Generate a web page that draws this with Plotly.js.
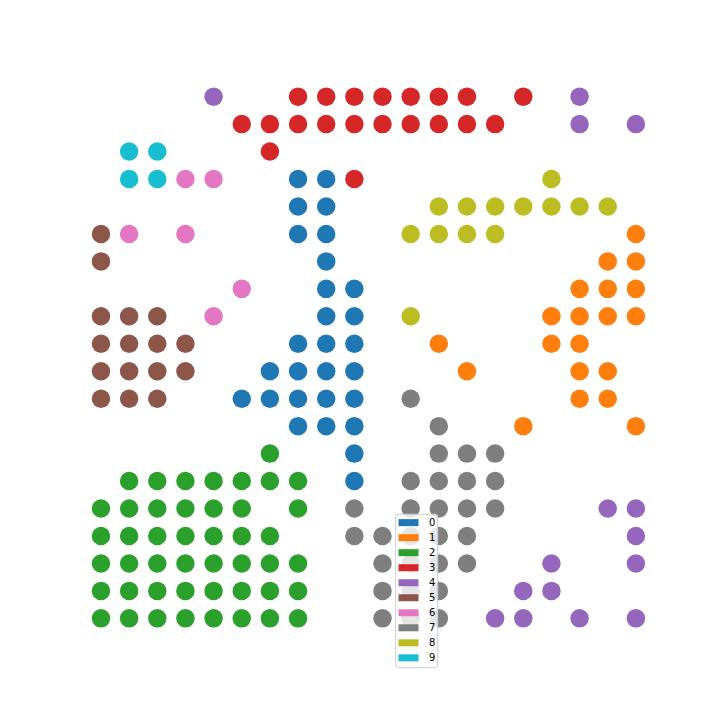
<!DOCTYPE html>
<html>
<head>
<meta charset="utf-8">
<script src="https://cdn.plot.ly/plotly-3.0.1.min.js"></script>
<style>html,body{margin:0;padding:0;background:#fff}#chart{width:720px;height:720px}</style>
</head>
<body>
<div id="chart"></div>
<script>
// Category labels (legend)
var categories = ['0','1','2','3','4','5','6','7','8','9'];
var colors = ['#1f77b4','#ff7f0e','#2ca02c','#d62728','#9467bd','#8c564b','#e377c2','#7f7f7f','#bcbd22','#17becf'];

// 20x20 grid: each character is the category of the cell, '.' = empty
var gridRows = [
  "....4..3333333.3.4..",
  ".....3333333333..4.4",
  ".99...3.............",
  ".9966..003......8...",
  ".......00...8888888.",
  "56.6...00..8888....1",
  "5.......0.........11",
  ".....6..00.......111",
  "555.6...00.8....1111",
  "5555...000..1...11..",
  "5555..0000...1...11.",
  "555..00000.7.....11.",
  ".......000..7..1...1",
  "......2..0..777.....",
  ".2222222.0.7777.....",
  "222222.2.7.7777...44",
  "2222222..77777.....4",
  "22222222..7777..4..4",
  "22222222..777..44...",
  "22222222..777.44.4.4"
];

var traces = [];
categories.forEach(function(cat, k){
  var xs = [], ys = [];
  gridRows.forEach(function(row, r){
    for (var c = 0; c < row.length; c++) {
      if (row[c] === cat) { xs.push(c); ys.push(r); }
    }
  });
  traces.push({
    type: 'scatter', mode: 'markers', x: xs, y: ys, name: cat,
    marker: {color: colors[k], size: 18.5, line: {width: 0}},
    showlegend: false, hoverinfo: 'skip'
  });
});

// plot area in pixels
var L = 90, R = 648, T = 86.4, B = 633.6;
function px(x){ return (x - L) / (R - L); }
function py(y){ return (B - y) / (B - T); }

// matplotlib-style legend (box, patches, labels)
var shapes = [], annotations = [];
var bx0 = 395.7, bx1 = 437.7, by0 = 514, by1 = 667.3, rr = 2.5;
var boxPath = 'M ' + px(bx0+rr) + ' ' + py(by0) +
  ' L ' + px(bx1-rr) + ' ' + py(by0) +
  ' Q ' + px(bx1) + ' ' + py(by0) + ' ' + px(bx1) + ' ' + py(by0+rr) +
  ' L ' + px(bx1) + ' ' + py(by1-rr) +
  ' Q ' + px(bx1) + ' ' + py(by1) + ' ' + px(bx1-rr) + ' ' + py(by1) +
  ' L ' + px(bx0+rr) + ' ' + py(by1) +
  ' Q ' + px(bx0) + ' ' + py(by1) + ' ' + px(bx0) + ' ' + py(by1-rr) +
  ' L ' + px(bx0) + ' ' + py(by0+rr) +
  ' Q ' + px(bx0) + ' ' + py(by0) + ' ' + px(bx0+rr) + ' ' + py(by0) + ' Z';
shapes.push({type: 'path', xref: 'paper', yref: 'paper', path: boxPath,
  fillcolor: 'rgba(255,255,255,0.8)', line: {color: '#cccccc', width: 1}});
categories.forEach(function(cat, k){
  var cy = 522.4 + 15.0 * k;
  shapes.push({type: 'rect', xref: 'paper', yref: 'paper',
    x0: px(398.5), x1: px(418.5), y0: py(cy - 3.5), y1: py(cy + 3.5),
    fillcolor: colors[k], line: {width: 0}});
  annotations.push({xref: 'paper', yref: 'paper', x: px(427), y: py(cy),
    xanchor: 'left', yanchor: 'middle', text: cat, showarrow: false,
    font: {family: 'DejaVu Sans', size: 10, color: '#000'}});
});

var layout = {
  width: 720, height: 720,
  margin: {l: L, r: 720 - R, t: T, b: 720 - B, pad: 0},
  paper_bgcolor: '#fff', plot_bgcolor: '#fff',
  xaxis: {range: [-0.39, 19.43], visible: false, showgrid: false, zeroline: false},
  yaxis: {range: [19.57, -0.387], visible: false, showgrid: false, zeroline: false},
  showlegend: false,
  shapes: shapes,
  annotations: annotations,
  font: {family: 'DejaVu Sans'}
};

Plotly.newPlot('chart', traces, layout, {displayModeBar: false, staticPlot: true});
</script>
</body>
</html>
